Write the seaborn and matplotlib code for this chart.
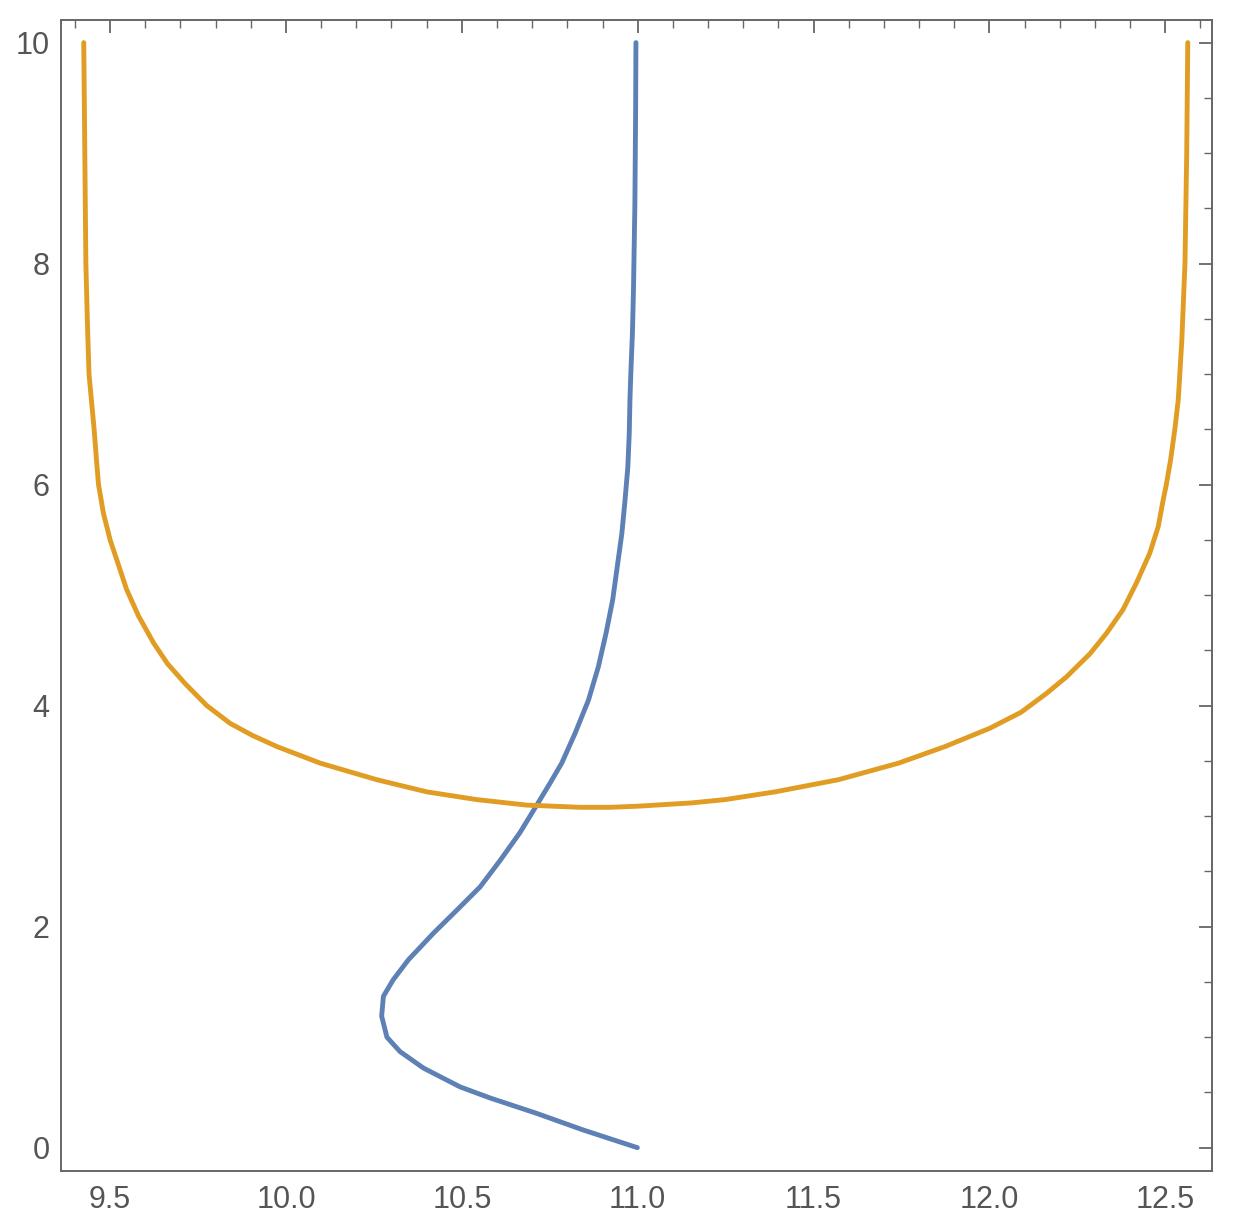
import matplotlib
matplotlib.use("Agg")
import matplotlib.pyplot as plt
import seaborn as sns
from matplotlib.ticker import MultipleLocator, FormatStrFormatter

# Blue curve (ordered by y)
blue_x = [10.999, 10.845, 10.713, 10.580, 10.495, 10.391, 10.324, 10.287, 10.272, 10.277,
          10.305, 10.348, 10.419, 10.486, 10.552, 10.609, 10.665, 10.713, 10.751, 10.784,
          10.822, 10.860, 10.888, 10.910, 10.929, 10.942, 10.955, 10.964, 10.972, 10.976,
          10.978, 10.980, 10.985, 10.988, 10.990, 10.992, 10.994, 10.995]
blue_y = [0.00, 0.16, 0.31, 0.45, 0.55, 0.72, 0.87, 1.00, 1.19, 1.37,
          1.52, 1.70, 1.94, 2.15, 2.36, 2.60, 2.85, 3.10, 3.30, 3.48,
          3.75, 4.05, 4.35, 4.655, 4.96, 5.26, 5.56, 5.86, 6.16, 6.465,
          6.77, 6.97, 7.37, 7.76, 8.15, 8.54, 9.33, 10.00]

# Orange curve (left branch down, then right branch up)
orange_x = [9.425, 9.428, 9.431, 9.436, 9.440, 9.4545, 9.462, 9.467, 9.481, 9.500,
            9.522, 9.547, 9.581, 9.624, 9.663, 9.713, 9.775, 9.841, 9.905, 9.974,
            10.097, 10.258, 10.400, 10.542, 10.684, 10.836, 10.920, 11.000, 11.154, 11.249,
            11.391, 11.571, 11.742, 11.874, 12.001, 12.090, 12.162, 12.219, 12.286, 12.333,
            12.380, 12.418, 12.456, 12.480, 12.494, 12.503, 12.515, 12.528, 12.537, 12.547,
            12.556, 12.561, 12.564]
orange_y = [10.0, 9.0, 8.0, 7.4, 7.0, 6.5, 6.19, 6.0, 5.74, 5.50,
            5.29, 5.05, 4.81, 4.565, 4.38, 4.20, 4.00, 3.84, 3.73, 3.63,
            3.48, 3.33, 3.22, 3.15, 3.10, 3.08, 3.08, 3.09, 3.12, 3.15,
            3.22, 3.33, 3.48, 3.63, 3.795, 3.94, 4.11, 4.26, 4.47, 4.655,
            4.87, 5.11, 5.38, 5.62, 5.86, 6.00, 6.22, 6.52, 6.77, 7.3,
            8.0, 9.0, 10.0]

sns.set_style("white")
plt.rcParams["font.family"] = ["Liberation Sans", "DejaVu Sans"]

fig = plt.figure(figsize=(12.33, 12.25), dpi=100)
ax = fig.add_axes([0.0491, 0.0441, 0.983 - 0.0491, 0.9837 - 0.0441])

sns.lineplot(x=blue_x, y=blue_y, sort=False, estimator=None, color="#5E81B5", lw=3.5, ax=ax)
sns.lineplot(x=orange_x, y=orange_y, sort=False, estimator=None, color="#E19C24", lw=3.5, ax=ax)

ax.set_xlim(9.359, 12.633)
ax.set_ylim(-0.211, 10.205)

ax.xaxis.set_major_locator(MultipleLocator(0.5))
ax.xaxis.set_minor_locator(MultipleLocator(0.1))
ax.yaxis.set_major_locator(MultipleLocator(2))
ax.yaxis.set_minor_locator(MultipleLocator(0.5))
ax.xaxis.set_major_formatter(FormatStrFormatter("%.1f"))

frame = "#666666"
for s in ax.spines.values():
    s.set_color(frame)
    s.set_linewidth(1.4)

ax.tick_params(which="both", direction="in", top=True, right=True, color=frame,
               labelcolor="#555555", labelsize=22)
ax.tick_params(which="major", length=9.5, width=1.3, pad=10)
ax.tick_params(which="minor", length=5.5, width=1.0)
ax.tick_params(axis="y", which="major", pad=8)

fig.savefig("out.png", dpi=100, facecolor="white")
